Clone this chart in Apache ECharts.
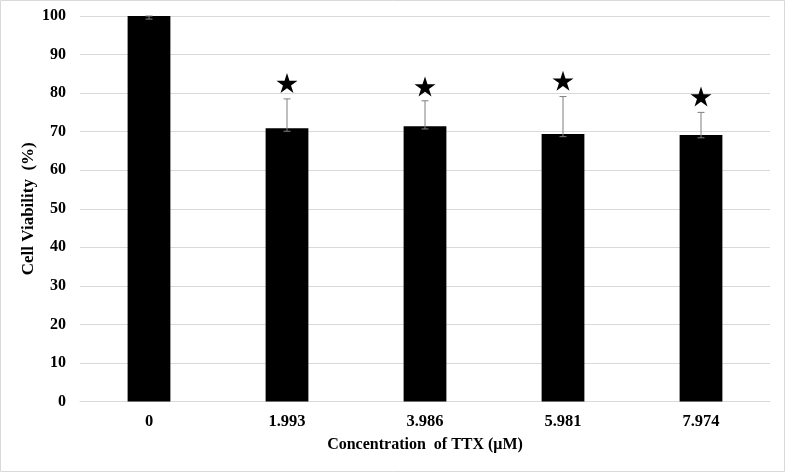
<!DOCTYPE html>
<html>
<head>
<meta charset="utf-8">
<script src="https://cdn.jsdelivr.net/npm/echarts@6/dist/echarts.min.js"></script>
<style>html,body{margin:0;padding:0;background:#fff;}#c{width:785px;height:472px;}</style>
</head>
<body>
<div id="c"></div>
<script>
var categories = ['0', '1.993', '3.986', '5.981', '7.974'];
var viability = [100, 70.9, 71.4, 69.4, 69.1];
var errPlus = [0, 7.6, 6.6, 9.7, 5.9];
var errMinus = [0.8, 0.8, 0.7, 0.7, 0.7];
var starY = [null, 82.6, 81.7, 83.2, 79.1];
var yTicks = [0, 10, 20, 30, 40, 50, 60, 70, 80, 90, 100];

var FONT = 'Liberation Serif';
var chart = echarts.init(document.getElementById('c'));
var errData = categories.map(function (c, i) {
  return [i, viability[i] - errMinus[i], viability[i] + errPlus[i]];
});
var starData = [];
categories.forEach(function (c, i) { if (starY[i] != null) starData.push([i, starY[i]]); });

chart.setOption({
  animation: false,
  backgroundColor: '#fff',
  graphic: [{
    type: 'rect', shape: { x: 0.5, y: 0.5, width: 784, height: 471 },
    style: { fill: 'none', stroke: '#d9d9d9', lineWidth: 1 }, silent: true
  }],
  grid: { left: 80, right: 15, top: 16, bottom: 70.5, containLabel: false },
  xAxis: {
    type: 'category', data: categories, boundaryGap: true,
    axisLine: { lineStyle: { color: '#d9d9d9', width: 1 } },
    axisTick: { show: false },
    axisLabel: { color: '#000', fontFamily: FONT, fontWeight: 'bold', fontSize: 16.5, margin: 12 },
    name: 'Concentration  of TTX (μM)', nameLocation: 'middle', nameGap: 35,
    nameMoveOverlap: false,
    nameTextStyle: { color: '#000', fontFamily: FONT, fontWeight: 'bold', fontSize: 16 }
  },
  yAxis: {
    type: 'value', min: 0, max: 100, interval: 10,
    axisLine: { show: false }, axisTick: { show: false },
    splitLine: { lineStyle: { color: '#d9d9d9', width: 1 } },
    axisLabel: { color: '#000', fontFamily: FONT, fontWeight: 'bold', fontSize: 16, margin: 14 },
    name: 'Cell Viability  (%)', nameLocation: 'middle', nameGap: 43, nameRotate: 90,
    nameMoveOverlap: false,
    nameTextStyle: { color: '#000', fontFamily: FONT, fontWeight: 'bold', fontSize: 17 }
  },
  series: [
    {
      type: 'bar', data: viability, barWidth: '31%',
      itemStyle: { color: '#000' }, silent: true
    },
    {
      type: 'custom', data: errData, z: 5, silent: true,
      renderItem: function (params, api) {
        var x = api.value(0);
        var lo = api.coord([x, api.value(1)]);
        var hi = api.coord([x, api.value(2)]);
        var hw = 3.5;
        var st = { stroke: '#7f7f7f', lineWidth: 1 };
        return {
          type: 'group',
          children: [
            { type: 'line', shape: { x1: lo[0], y1: lo[1], x2: hi[0], y2: hi[1] }, style: st },
            { type: 'line', shape: { x1: lo[0] - hw, y1: lo[1], x2: lo[0] + hw, y2: lo[1] }, style: st },
            { type: 'line', shape: { x1: hi[0] - hw, y1: hi[1], x2: hi[0] + hw, y2: hi[1] }, style: st }
          ]
        };
      }
    },
    {
      type: 'scatter', data: starData, z: 6, silent: true,
      symbol: 'path://M50,0 L61.2,34.5 L97.6,34.5 L68.2,55.9 L79.4,90.5 L50,69.1 L20.6,90.5 L31.8,55.9 L2.4,34.5 L38.8,34.5 Z',
      symbolSize: [21, 20],
      itemStyle: { color: '#000', opacity: 1 }
    }
  ]
});
</script>
</body>
</html>
